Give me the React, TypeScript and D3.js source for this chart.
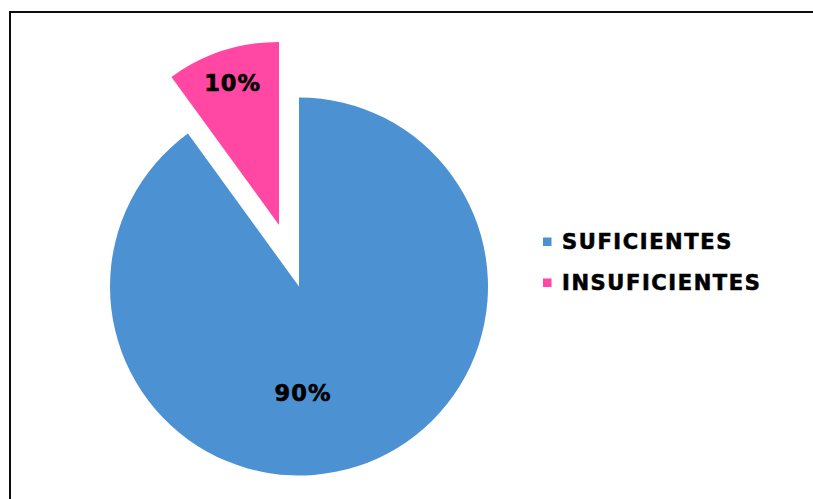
import React from "react";
import * as d3 from "d3";

const categories = ["SUFICIENTES", "INSUFICIENTES"];
const values = [90, 10];
const labels = ["90%", "10%"];
const colors = ["#4C92D3", "#FF47A3"];

const W = 813;
const H = 499;

export default function App() {
  const cx = 299;
  const cy = 286.5;
  const R = 189;
  const pie = d3.pie<number>().sort(null).value((d) => d);
  const arcs = pie(values);
  const explode = [0, 64.7];
  const radii = [R, 183];
  const font = "'DejaVu Sans', Verdana, sans-serif";

  return (
    <svg width={W} height={H} style={{ position: "absolute", left: 0, top: 0, background: "#fff" }}>
      <defs>
        <filter id="sh" x="-5%" y="-5%" width="110%" height="110%">
          <feDropShadow dx="1" dy="1" stdDeviation="0.6" floodColor="#999" floodOpacity="0.8" />
        </filter>
      </defs>
      <rect x={10} y={12} width={830} height={520} fill="#fff" stroke="#111" strokeWidth={2} filter="url(#sh)" />
      {arcs.map((a, i) => {
        const mid = (a.startAngle + a.endAngle) / 2;
        const ox = Math.sin(mid) * explode[i];
        const oy = -Math.cos(mid) * explode[i];
        const arc = d3.arc<any>().innerRadius(0).outerRadius(radii[i]);
        return (
          <path key={i} d={arc(a) || ""} fill={colors[i]} transform={`translate(${cx + ox},${cy + oy})`} />
        );
      })}
      {arcs.map((a, i) => {
        const mid = (a.startAngle + a.endAngle) / 2;
        const ox = Math.sin(mid) * explode[i];
        const oy = -Math.cos(mid) * explode[i];
        // label placement (Excel best fit)
        const ang = i === 0 ? Math.PI * 0.988 : mid;
        const lr = i === 0 ? 106.5 : 150;
        const lx = cx + ox + Math.sin(ang) * lr;
        const ly = cy + oy - Math.cos(ang) * lr;
        return (
          <text
            key={i}
            x={lx}
            y={ly + 8.5}
            textAnchor="middle"
            fontFamily={font}
            fontWeight="bold"
            fontSize={22.5}
            letterSpacing={1}
            stroke="#000"
            strokeWidth={0.6}
            fill="#000"
          >
            {labels[i]}
          </text>
        );
      })}
      {categories.map((c, i) => (
        <g key={c} transform={`translate(543,${237.5 + i * 41})`}>
          <rect x={0} y={0} width={8.5} height={8.5} fill={colors[i]} />
          <text
            x={19}
            y={11}
            fontFamily={font}
            fontWeight="bold"
            fontSize={21}
            letterSpacing={1.6}
            stroke="#000"
            strokeWidth={0.6}
            fill="#000"
          >
            {c}
          </text>
        </g>
      ))}
    </svg>
  );
}
